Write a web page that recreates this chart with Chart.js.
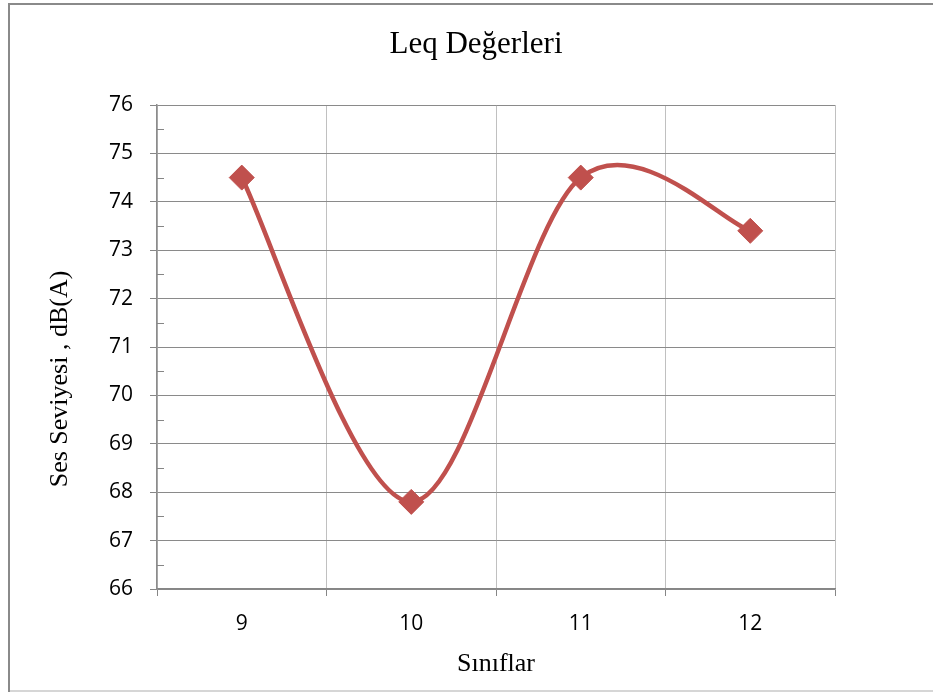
<!DOCTYPE html>
<html>
<head>
<meta charset="utf-8">
<script src="https://cdn.jsdelivr.net/npm/chart.js@4"></script>
<style>
html,body{margin:0;padding:0;background:#fff;}
#wrap{width:933px;height:692px;position:relative;}
</style>
</head>
<body>
<div id="wrap"><canvas id="c" width="933" height="692"></canvas></div>
<script>
const categories = ['9', '10', '11', '12'];
const leqValues = [74.5, 67.8, 74.5, 73.4];
const yTicks = [66, 67, 68, 69, 70, 71, 72, 73, 74, 75, 76];
const chartTitle = 'Leq Değerleri';
const xTitle = 'Sınıflar';
const yTitle = 'Ses Seviyesi , dB(A)';

const SERIF = '"Liberation Serif", "Times New Roman", serif';
const SANS = '"Open Sans", sans-serif';

// Excel-like smoothing (Catmull-Rom style control points from the library's pixel positions)
const smoothLine = {
  id: 'smoothLine',
  beforeDatasetsDraw(chart) {
    const meta = chart.getDatasetMeta(0);
    const pts = meta.data;
    const n = pts.length;
    for (let i = 0; i < n; i++) {
      const p = pts[i];
      const prev = pts[Math.max(0, i - 1)];
      const next = pts[Math.min(n - 1, i + 1)];
      const tx = (next.x - prev.x) / 6;
      const ty = (next.y - prev.y) / 6;
      p.cp1x = p.x - tx; p.cp1y = p.y - ty;
      p.cp2x = p.x + tx; p.cp2y = p.y + ty;
    }
    meta.dataset._pointsUpdated = true;
    delete meta.dataset._path;
  }
};

const frame = {
  id: 'frame',
  beforeDraw(chart) {
    const ctx = chart.ctx;
    ctx.save();
    ctx.fillStyle = '#fff';
    ctx.fillRect(0, 0, chart.width, chart.height);
    ctx.strokeStyle = '#d6d6d6';
    ctx.lineWidth = 2;
    ctx.beginPath();
    ctx.moveTo(9, 691); ctx.lineTo(940, 691);
    ctx.stroke();
    ctx.strokeStyle = '#8a8a8a';
    ctx.beginPath();
    ctx.moveTo(9, 692); ctx.lineTo(9, 4); ctx.lineTo(940, 4);
    ctx.stroke();
    // chart title
    ctx.fillStyle = '#000';
    ctx.font = '31px ' + SERIF;
    ctx.textAlign = 'center';
    ctx.textBaseline = 'alphabetic';
    ctx.fillText(chartTitle, 476, 53);
    // y axis title
    ctx.save();
    ctx.translate(67, 379);
    ctx.rotate(-Math.PI / 2);
    ctx.font = '26px ' + SERIF;
    ctx.textAlign = 'center';
    ctx.textBaseline = 'alphabetic';
    ctx.fillText(yTitle, 0, 0);
    ctx.restore();
    ctx.restore();
  },
  beforeDatasetsDraw(chart) {
    const y = chart.scales.y, ctx = chart.ctx;
    const left = chart.chartArea.left;
    ctx.save();
    ctx.strokeStyle = '#868686';
    ctx.lineWidth = 1;
    for (let i = 0; i < yTicks.length - 1; i++) {
      const py = Math.round(y.getPixelForValue(yTicks[i] + 0.5)) + 0.5;
      ctx.beginPath();
      ctx.moveTo(left, py); ctx.lineTo(left + 7, py);
      ctx.stroke();
    }
    ctx.restore();
  }
};

new Chart(document.getElementById('c'), {
  type: 'line',
  data: {
    labels: categories,
    datasets: [{
      data: leqValues,
      borderColor: '#C0504D',
      backgroundColor: '#C0504D',
      borderWidth: 4.5,
      tension: 0.4,
      pointStyle: 'rectRot',
      pointRadius: 12.5,
      pointHoverRadius: 12.5,
      pointBackgroundColor: '#C0504D',
      pointBorderColor: '#C0504D',
      pointBorderWidth: 1,
      fill: false
    }]
  },
  options: {
    responsive: false,
    animation: false,
    devicePixelRatio: 1,
    layout: { padding: { left: 0, right: 98, top: 105, bottom: 0 } },
    plugins: {
      legend: { display: false },
      tooltip: { enabled: false },
      title: { display: false }
    },
    scales: {
      x: {
        offset: true,
        afterFit(s) { s.height = 103; },
        grid: { offset: true, color: '#c0c0c0', lineWidth: 1, tickLength: 7, tickColor: '#868686', drawTicks: true },
        border: { color: '#868686', width: 1.5 },
        ticks: { color: '#000', padding: 15, font: { family: SANS, size: 21 } },
        title: {
          display: true, text: xTitle, color: '#000',
          font: { family: SERIF, size: 26 },
          padding: { top: 0, bottom: 12 }
        }
      },
      y: {
        min: 66, max: 76,
        afterFit(s) { s.width = 157; },
        afterBuildTicks(s) { s.ticks = yTicks.map(v => ({ value: v })); },
        grid: { color: '#8a8a8a', lineWidth: 1, tickLength: 7, tickColor: '#868686' },
        border: { color: '#8c8c8c', width: 1.5 },
        ticks: { color: '#000', padding: 17, font: { family: SANS, size: 21 } },
        title: { display: false }
      }
    }
  },
  plugins: [frame, smoothLine]
});
</script>
</body>
</html>
